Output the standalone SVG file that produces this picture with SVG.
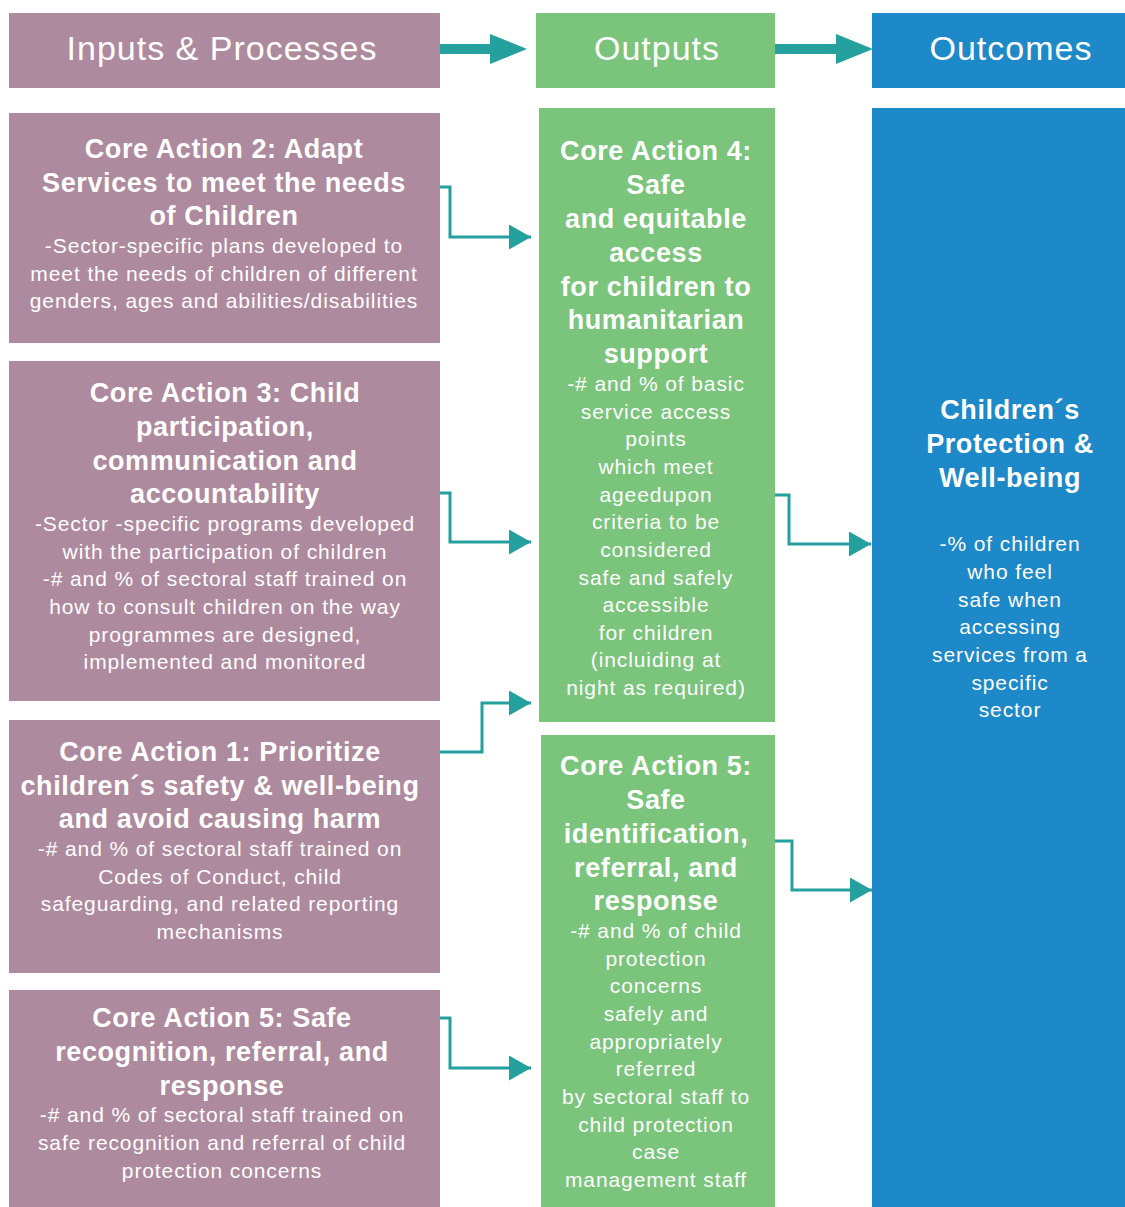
<svg xmlns="http://www.w3.org/2000/svg" width="1125" height="1207" viewBox="0 0 1125 1207">
<style>
.p{fill:#AE8A9F}.g{fill:#7AC47C}.b{fill:#1D89C8}
text{font-family:"Liberation Sans",Arial,sans-serif;fill:#fff;text-anchor:middle}
.h{font-size:34px;letter-spacing:1px}
.t{font-size:27px;font-weight:bold;letter-spacing:0.6px}
.s{font-size:21px;letter-spacing:0.9px}
.c{fill:none;stroke:#24A09F;stroke-width:3;marker-end:url(#ah)}
.ar{fill:#24A09F}
</style>
<defs>
<marker id="ah" markerUnits="userSpaceOnUse" markerWidth="23" markerHeight="26" refX="22" refY="12.5" orient="auto">
<path d="M0,0 L22,12.5 L0,25 Z" fill="#24A09F"/>
</marker>
</defs>
<rect width="1125" height="1207" fill="#fff"/>

<g id="header-inputs"><rect class="p" x="9" y="13" width="431" height="75"/><text class="h" x="222" y="60">Inputs &amp; Processes</text></g>
<g id="header-outputs"><rect class="g" x="536" y="13" width="239" height="75"/><text class="h" x="657" y="60">Outputs</text></g>
<g id="header-outcomes"><rect class="b" x="872" y="13" width="253" height="75"/><text class="h" x="1011" y="60">Outcomes</text></g>

<g id="ca2">
<rect class="p" x="9" y="113" width="431" height="230"/>
<text class="t" x="224"><tspan x="224" y="158">Core Action 2: Adapt</tspan><tspan x="224" y="192">Services to meet the needs</tspan><tspan x="224" y="225">of Children</tspan></text>
<text class="s"><tspan x="224" y="253">-Sector-specific plans developed to</tspan><tspan x="224" y="281">meet the needs of children of different</tspan><tspan x="224" y="308">genders, ages and abilities/disabilities</tspan></text>
</g>

<g id="ca3">
<rect class="p" x="9" y="361" width="431" height="340"/>
<text class="t"><tspan x="225" y="402">Core Action 3: Child</tspan><tspan x="225" y="436">participation,</tspan><tspan x="225" y="470">communication and</tspan><tspan x="225" y="503">accountability</tspan></text>
<text class="s"><tspan x="225" y="531">-Sector -specific programs developed</tspan><tspan x="225" y="559">with the participation of children</tspan><tspan x="225" y="586">-# and % of sectoral staff trained on</tspan><tspan x="225" y="614">how to consult children on the way</tspan><tspan x="225" y="642">programmes are designed,</tspan><tspan x="225" y="669">implemented and monitored</tspan></text>
</g>

<g id="ca1">
<rect class="p" x="9" y="720" width="431" height="253"/>
<text class="t"><tspan x="220" y="761">Core Action 1: Prioritize</tspan><tspan x="220" y="795">children´s safety &amp; well-being</tspan><tspan x="220" y="828">and avoid causing harm</tspan></text>
<text class="s"><tspan x="220" y="856">-# and % of sectoral staff trained on</tspan><tspan x="220" y="884">Codes of Conduct, child</tspan><tspan x="220" y="911">safeguarding, and related reporting</tspan><tspan x="220" y="939">mechanisms</tspan></text>
</g>

<g id="ca5-input">
<rect class="p" x="9" y="990" width="431" height="217"/>
<text class="t"><tspan x="222" y="1027">Core Action 5: Safe</tspan><tspan x="222" y="1061">recognition, referral, and</tspan><tspan x="222" y="1095">response</tspan></text>
<text class="s"><tspan x="222" y="1122">-# and % of sectoral staff trained on</tspan><tspan x="222" y="1150">safe recognition and referral of child</tspan><tspan x="222" y="1178">protection concerns</tspan></text>
</g>

<g id="ca4">
<rect class="g" x="539" y="108" width="236" height="614"/>
<text class="t"><tspan x="656" y="160">Core Action 4:</tspan><tspan x="656" y="194">Safe</tspan><tspan x="656" y="228">and equitable</tspan><tspan x="656" y="262">access</tspan><tspan x="656" y="296">for children to</tspan><tspan x="656" y="329">humanitarian</tspan><tspan x="656" y="363">support</tspan></text>
<text class="s"><tspan x="656" y="391">-# and % of basic</tspan><tspan x="656" y="419">service access</tspan><tspan x="656" y="446">points</tspan><tspan x="656" y="474">which meet</tspan><tspan x="656" y="502">ageedupon</tspan><tspan x="656" y="529">criteria to be</tspan><tspan x="656" y="557">considered</tspan><tspan x="656" y="585">safe and safely</tspan><tspan x="656" y="612">accessible</tspan><tspan x="656" y="640">for children</tspan><tspan x="656" y="667">(incluiding at</tspan><tspan x="656" y="695">night as required)</tspan></text>
</g>

<g id="ca5-output">
<rect class="g" x="541" y="735" width="234" height="472"/>
<text class="t"><tspan x="656" y="775">Core Action 5:</tspan><tspan x="656" y="809">Safe</tspan><tspan x="656" y="843">identification,</tspan><tspan x="656" y="877">referral, and</tspan><tspan x="656" y="910">response</tspan></text>
<text class="s"><tspan x="656" y="938">-# and % of child</tspan><tspan x="656" y="966">protection</tspan><tspan x="656" y="993">concerns</tspan><tspan x="656" y="1021">safely and</tspan><tspan x="656" y="1049">appropriately</tspan><tspan x="656" y="1076">referred</tspan><tspan x="656" y="1104">by sectoral staff to</tspan><tspan x="656" y="1132">child protection</tspan><tspan x="656" y="1159">case</tspan><tspan x="656" y="1187">management staff</tspan></text>
</g>

<g id="outcome">
<rect class="b" x="872" y="108" width="253" height="1099"/>
<text class="t"><tspan x="1010" y="419">Children´s</tspan><tspan x="1010" y="453">Protection &amp;</tspan><tspan x="1010" y="487">Well-being</tspan></text>
<text class="s"><tspan x="1010" y="551">-% of children</tspan><tspan x="1010" y="579">who feel</tspan><tspan x="1010" y="607">safe when</tspan><tspan x="1010" y="634">accessing</tspan><tspan x="1010" y="662">services from a</tspan><tspan x="1010" y="690">specific</tspan><tspan x="1010" y="717">sector</tspan></text>
</g>

<g id="connectors">
<rect class="ar" x="440" y="44" width="52" height="10"/>
<polygon class="ar" points="490,34 527,49 490,64"/>
<rect class="ar" x="775" y="44" width="62" height="10"/>
<polygon class="ar" points="836,34 873,49 836,64"/>
<polyline class="c" points="440,187 450,187 450,237 531,237"/>
<polyline class="c" points="440,493 450,493 450,542 531,542"/>
<polyline class="c" points="440,752 482,752 482,703 531,703"/>
<polyline class="c" points="440,1018 450,1018 450,1068 531,1068"/>
<polyline class="c" points="775,495 789,495 789,544 871,544"/>
<polyline class="c" points="775,841 792,841 792,890 872,890"/>
</g>
</svg>
